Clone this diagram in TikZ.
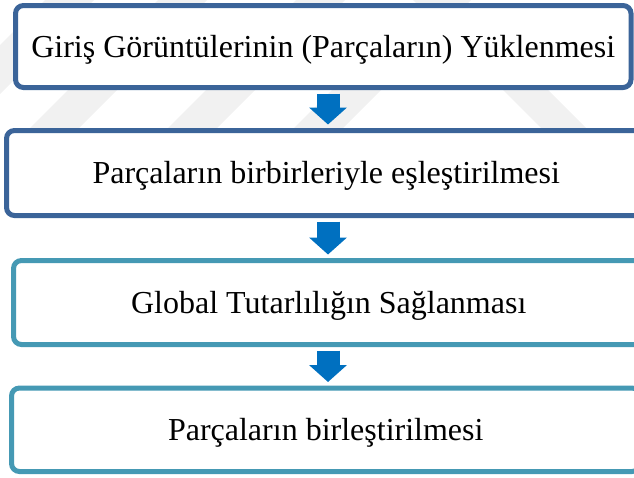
\documentclass[tikz,border=0pt]{standalone}
\usepackage{fontspec}
\setmainfont{Liberation Serif}
\usetikzlibrary{arrows.meta}
\definecolor{bordA}{HTML}{3B6499}
\definecolor{bordB}{HTML}{4599B4}
\definecolor{arrowblue}{HTML}{0070C0}
\definecolor{wm}{HTML}{F1F1F1}
\begin{document}
\begin{tikzpicture}[x=1pt,y=-1pt,
  stepbox/.style={draw, line width=5pt, rounded corners=8pt, fill=white, outer sep=0pt, inner sep=0pt,
    font=\fontsize{32}{38}\selectfont, text height=28pt, text depth=7pt},
  blk/.style={arrowblue, line width=23pt, -{Triangle[width=37pt,length=17pt]}, shorten <=6pt, shorten >=6pt}]
\useasboundingbox (0,0) rectangle (634,477);
\clip (0,0) rectangle (634,477);
% faint watermark
\foreach \a in {-85,28,166,292}
  \fill[wm] (\a,130) -- (\a+49,130) -- (\a+179,0) -- (\a+130,0) -- cycle;
\fill[wm] (543,130) -- (588,130) -- (458,0) -- (413,0) -- cycle;
% boxes
\node[stepbox, draw=bordA, minimum width=615.5pt, minimum height=82pt] (b1) at (323.25,46.5)
  {Giriş Görüntülerinin (Parçaların) Yüklenmesi};
\node[stepbox, draw=bordA, minimum width=639.5pt, minimum height=85pt] (b2) at (326.25,173)
  {Parçaların birbirleriyle eşleştirilmesi};
\node[stepbox, draw=bordB, minimum width=630.5pt, minimum height=84pt] (b3) at (328.75,302.5)
  {Global Tutarlılığın Sağlanması};
\node[stepbox, draw=bordB, minimum width=628.5pt, minimum height=83.5pt] (b4) at (325.75,429.75)
  {Parçaların birleştirilmesi};
% arrows
\coordinate (ax) at (328,0);
\draw[blk] (b1.south -| ax) -- (b2.north -| ax);
\draw[blk] (b2.south -| ax) -- (b3.north -| ax);
\draw[blk] (b3.south -| ax) -- (b4.north -| ax);
\end{tikzpicture}
\end{document}
